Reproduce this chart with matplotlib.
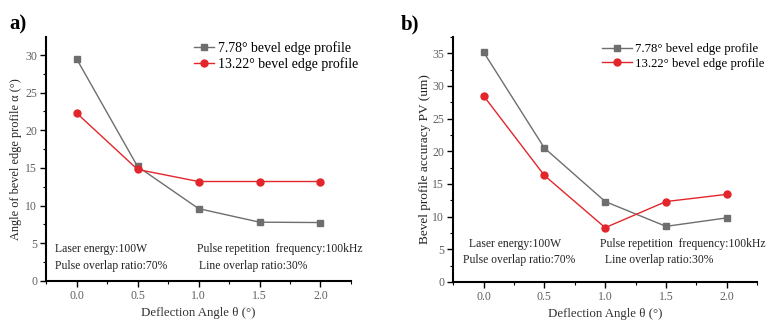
import matplotlib.pyplot as plt
from matplotlib.ticker import MultipleLocator

plt.rcParams['font.family'] = ['Liberation Serif', 'DejaVu Serif']

# Data
deflection = [0.0, 0.5, 1.0, 1.5, 2.0]

angle_778 = [29.5, 15.2, 9.6, 7.8, 7.75]
angle_1322 = [22.3, 14.8, 13.2, 13.2, 13.2]

pv_778 = [35.2, 20.5, 12.3, 8.5, 9.8]
pv_1322 = [28.5, 16.3, 8.3, 12.3, 13.4]

series_labels = ["7.78° bevel edge profile", "13.22° bevel edge profile"]
notes = ["Laser energy:100W", "Pulse overlap ratio:70%",
         "Pulse repetition  frequency:100kHz", "Line overlap ratio:30%"]

GRAY = '#6e6e6e'
RED = '#e3262b'
NOTE_SIZE = 8.4

fig = plt.figure(figsize=(7.68, 3.27), dpi=100)
ax_a = fig.add_axes([0.060, 0.141, 0.397, 0.746])
ax_b = fig.add_axes([0.590, 0.138, 0.396, 0.749])


def style_axes(ax, ymax, ylabel, ysize, ypad):
    ax.set_xlim(-0.25, 2.25)
    ax.set_ylim(0, ymax)
    ax.spines['top'].set_visible(False)
    ax.spines['right'].set_visible(False)
    for s in ('left', 'bottom'):
        ax.spines[s].set_linewidth(1.5)
    ax.xaxis.set_major_locator(MultipleLocator(0.5))
    ax.xaxis.set_minor_locator(MultipleLocator(0.25))
    ax.yaxis.set_major_locator(MultipleLocator(5))
    ax.yaxis.set_minor_locator(MultipleLocator(2.5))
    ax.xaxis.set_major_formatter(lambda v, p: f"{v:.1f}")
    ax.tick_params(which='major', direction='out', length=4, width=1.0,
                   labelsize=8.5, labelcolor='#606060', pad=2.5)
    ax.tick_params(which='minor', direction='out', length=2.5, width=0.8)
    ax.set_xlabel("Deflection Angle θ (°)", fontsize=9.3, color='#333333', labelpad=4)
    ax.set_ylabel(ylabel, fontsize=ysize, color='#222222', labelpad=ypad)


def draw(ax, y1, y2, handle_len, anchor, size):
    ax.plot(deflection, y1, color=GRAY, marker='s', markersize=4.5,
            linewidth=1.0, label=series_labels[0])
    ax.plot(deflection, y2, color=RED, marker='o', markersize=5,
            linewidth=1.0, label=series_labels[1])
    ax.legend(loc='upper right', frameon=False, fontsize=size,
              handlelength=handle_len, handletextpad=0.25, labelspacing=0.2,
              borderaxespad=0.1, bbox_to_anchor=anchor)


draw(ax_a, angle_778, angle_1322, 1.45, (1.045, 1.012), 10)
style_axes(ax_a, 32.4, "Angle of bevel edge profile α (°)", 8.8, 2)
ax_a.text(0.03, 0.13, notes[0], transform=ax_a.transAxes, fontsize=NOTE_SIZE, color='#222222', va='center')
ax_a.text(0.03, 0.06, notes[1], transform=ax_a.transAxes, fontsize=NOTE_SIZE, color='#222222', va='center')
ax_a.text(0.495, 0.13, notes[2], transform=ax_a.transAxes, fontsize=NOTE_SIZE, color='#222222', va='center')
ax_a.text(0.502, 0.06, notes[3], transform=ax_a.transAxes, fontsize=NOTE_SIZE, color='#222222', va='center')

draw(ax_b, pv_778, pv_1322, 2.3, (1.045, 1.0), 9.2)
style_axes(ax_b, 37.5, "Bevel profile accuracy PV (um)", 9.5, 1)
ax_b.text(0.052, 0.155, notes[0], transform=ax_b.transAxes, fontsize=NOTE_SIZE, color='#222222', va='center')
ax_b.text(0.033, 0.09, notes[1], transform=ax_b.transAxes, fontsize=NOTE_SIZE, color='#222222', va='center')
ax_b.text(0.482, 0.155, notes[2], transform=ax_b.transAxes, fontsize=NOTE_SIZE, color='#222222', va='center')
ax_b.text(0.5, 0.09, notes[3], transform=ax_b.transAxes, fontsize=NOTE_SIZE, color='#222222', va='center')

fig.text(0.012, 0.925, "a)", fontsize=15, fontweight='bold', va='center')
fig.text(0.522, 0.925, "b)", fontsize=15, fontweight='bold', va='center')

fig.savefig("out.png", dpi=100)
